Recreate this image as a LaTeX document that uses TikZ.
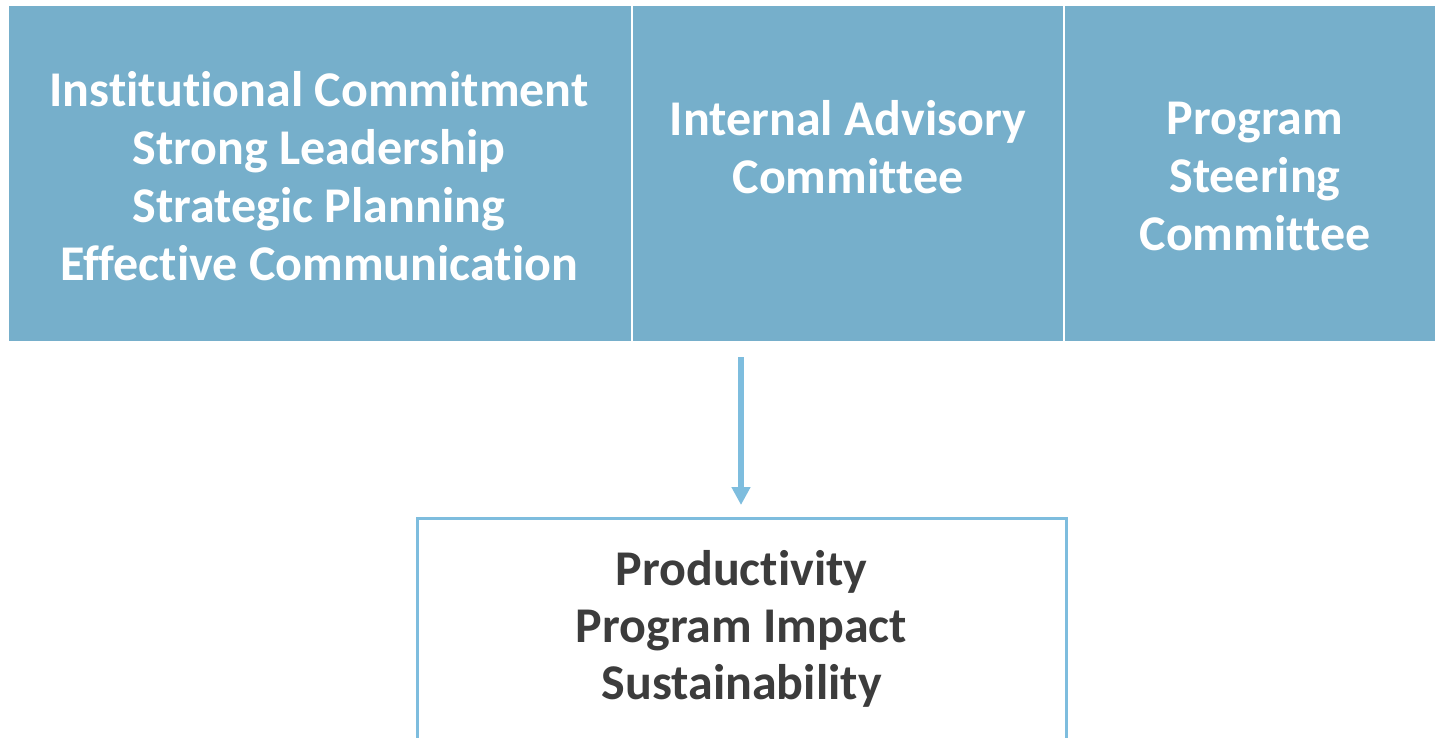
\documentclass[tikz,border=0pt]{standalone}
\usepackage{fontspec}
\setmainfont{Carlito}[Ligatures={NoCommon}]
\usetikzlibrary{arrows.meta}
\definecolor{boxfill}{RGB}{118,175,203}
\definecolor{lineblue}{RGB}{126,189,222}
\definecolor{darktext}{RGB}{60,60,60}
\tikzset{
  topbox/.style={fill=boxfill, draw=none, inner sep=0pt},
  toptext/.style={text=white, font=\fontsize{50}{58}\selectfont\bfseries, align=center, inner sep=0pt},
  outbox/.style={draw=lineblue, line width=3pt, fill=white, inner sep=0pt},
  outtext/.style={text=darktext, font=\fontsize{50}{57}\selectfont\bfseries, align=center, inner sep=0pt},
  flowarrow/.style={draw=lineblue, line width=6pt, -{Triangle[width=18pt,length=18pt]}}
}
\begin{document}
\begin{tikzpicture}[x=1pt,y=-1pt]
\clip (0,0) rectangle (1435,737);
\useasboundingbox (0,0) rectangle (1435,737);
\fill[white] (0,0) rectangle (1435,737);
% top boxes
\node[topbox, minimum width=622pt, minimum height=335pt] (left) at (320,173.5) {};
\node[topbox, minimum width=430pt, minimum height=335pt] (mid) at (848,173.5) {};
\node[topbox, minimum width=372pt, minimum height=335pt] (right) at (1251,173.5) {};
\node[toptext] (lefttxt) at (319,176) {Institutional Commitment\\Strong Leadership\\Strategic Planning\\Effective Communication};
\node[toptext] (midtxt) at (848,147.5) {Internal Advisory\\Committee};
\node[toptext] (righttxt) at (1255,176.5) {Program\\Steering\\Committee};
% bottom box
\node[outbox, minimum width=649pt, minimum height=260pt, anchor=north] (out) at (741.5,517) {};
\node[outtext] (outtxt) at (741.5,629) {Productivity\\Program Impact\\Sustainability};
% arrow
\coordinate (astart) at (741,357);
\draw[flowarrow, shorten >=12pt] (astart) -- (astart |- out.north);
\end{tikzpicture}
\end{document}
